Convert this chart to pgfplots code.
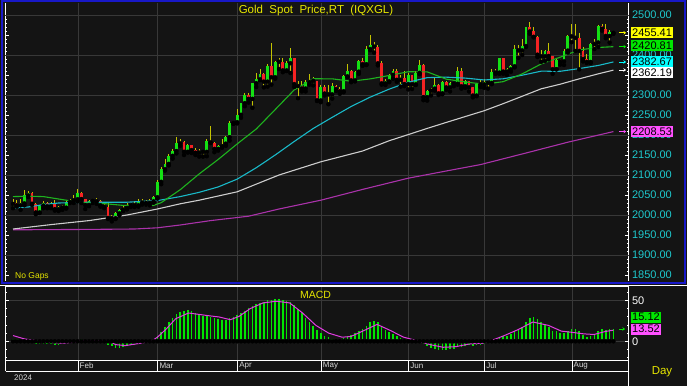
\documentclass[border=0pt]{standalone}
\usepackage{pgfplots}
\pgfplotsset{compat=1.18}
\usepackage{pgfplotstable}
\usepackage{fontspec}
\setmainfont{Liberation Sans}
\usetikzlibrary{arrows.meta}
\pgfkeys{/pgf/number format/assume math mode=true}

\definecolor{bg}{RGB}{20,20,20}
\definecolor{gridc}{RGB}{56,56,56}
\definecolor{frameblue}{RGB}{24,24,200}
\definecolor{ttlyellow}{RGB}{230,230,0}
\definecolor{tickcyan}{RGB}{30,200,205}
\definecolor{wick}{RGB}{195,195,0}
\definecolor{upg}{RGB}{20,225,20}
\definecolor{dnr}{RGB}{245,35,35}
\definecolor{magreen}{RGB}{30,180,30}
\definecolor{macyan}{RGB}{25,185,200}
\definecolor{mawhite}{RGB}{205,205,205}
\definecolor{mamag}{RGB}{170,50,170}
\definecolor{boxyellow}{RGB}{255,255,0}
\definecolor{boxgreen}{RGB}{0,230,0}
\definecolor{boxcyan}{RGB}{0,255,255}
\definecolor{boxmag}{RGB}{255,80,255}
\definecolor{macdg}{RGB}{0,230,0}
\definecolor{macdm}{RGB}{225,60,225}
\definecolor{monthc}{RGB}{215,215,215}

\pgfplotstableread{
k o h l c
0 2027.7 2041 2017 2030.2
2 2024.4 2040 2013 2028.9
3 2028.9 2062 2024 2049.0
4 2049.0 2060 2045 2055.3
7 2006.4 2026 2005 2023.4
8 2023.4 2036 2017 2029.2
10 2021.8 2032 2017 2029.3
12 2014.5 2023 2010 2020.9
14 2018.3 2035 2016 2032.6
15 2032.6 2040 2030 2036.7
16 2036.7 2051 2030 2039.3
17 2039.3 2065 2034 2054.8
20 2025.0 2038 2022 2035.3
27 1992.1 2008 1990 2004.1
28 2004.1 2016 1999 2013.4
29 2013.4 2023 2010 2017.6
30 2017.6 2031 2014 2024.6
31 2024.6 2031 2020 2025.9
33 2024.2 2041 2021 2035.8
36 2030.2 2039 2024 2034.0
37 2034.0 2048 2031 2044.4
38 2044.4 2088 2041 2082.9
39 2082.9 2119 2077 2114.6
40 2114.6 2141 2111 2127.9
41 2127.9 2152 2124 2148.0
42 2148.0 2165 2141 2159.8
43 2159.8 2195 2154 2179.0
44 2179.0 2189 2173 2182.4
46 2158.1 2178 2156 2174.9
49 2155.8 2164 2146 2160.5
51 2157.9 2189 2147 2186.1
54 2165.2 2175 2161 2171.9
55 2171.9 2189 2168 2178.4
56 2178.4 2197 2173 2194.4
57 2194.4 2236 2186 2229.9
58 2229.9 2236 2228 2232.0
59 2232.0 2266 2229 2250.6
60 2250.6 2281 2243 2279.5
61 2279.5 2305 2272 2300.2
63 2290.4 2331 2268 2329.5
64 2329.5 2354 2320 2339.1
65 2339.1 2365 2337 2352.6
67 2333.4 2378 2321 2372.7
69 2344.3 2385 2341 2383.3
72 2361.4 2385 2360 2379.4
73 2379.4 2417 2355 2391.9
77 2316.2 2338 2309 2332.2
78 2332.2 2353 2326 2337.5
81 2286.4 2326 2282 2320.3
84 2301.5 2331 2291 2323.2
87 2309.3 2351 2307 2346.5
88 2346.5 2378 2345 2360.3
90 2336.5 2361 2334 2358.4
91 2358.4 2388 2353 2385.5
93 2376.9 2422 2375 2414.9
94 2414.9 2450 2412 2425.3
98 2329.1 2340 2325 2334.1
99 2334.1 2353 2332 2350.4
100 2350.4 2364 2341 2360.5
102 2338.0 2351 2321 2343.1
104 2327.3 2354 2314 2350.4
106 2326.6 2359 2325 2355.4
107 2355.4 2388 2352 2375.5
109 2294.6 2313 2286 2310.7
110 2310.7 2318 2299 2316.0
111 2316.0 2342 2311 2325.3
113 2304.1 2334 2302 2333.1
115 2318.9 2332 2309 2329.4
117 2328.0 2369 2326 2360.3
119 2321.8 2337 2318 2334.4
122 2298.6 2330 2297 2327.0
124 2326.6 2339 2318 2332.6
126 2330.1 2365 2327 2356.3
128 2356.0 2393 2353 2392.1
130 2358.6 2367 2350 2364.0
131 2364.0 2376 2358 2371.7
132 2371.7 2424 2369 2414.9
134 2411.5 2440 2400 2422.4
135 2422.4 2470 2420 2469.6
140 2396.6 2412 2385 2409.6
143 2364.4 2390 2364 2387.1
145 2384.0 2414 2375 2411.0
146 2411.0 2451 2406 2447.6
152 2382.6 2431 2380 2427.7
153 2427.7 2439 2415 2431.3
154 2431.3 2475 2420 2472.5
157 2447.6 2463 2431 2456.8
}\uptab

\pgfplotstableread{
k o h l c
1 2030.2 2037 2021 2024.4
5 2055.3 2057 2025 2028.2
6 2028.2 2031 2002 2006.4
9 2029.2 2033 2017 2021.8
11 2029.3 2037 2011 2014.5
13 2020.9 2025 2013 2018.3
18 2054.8 2058 2030 2039.8
19 2039.8 2041 2015 2025.0
21 2035.3 2039 2030 2035.1
22 2035.1 2042 2028 2034.0
23 2034.0 2037 2021 2024.3
24 2024.3 2031 2017 2020.5
25 2020.5 2031 1990 1992.5
26 1992.5 2000 1984 1992.1
32 2025.9 2035 2020 2024.2
34 2035.8 2039 2026 2031.0
35 2031.0 2038 2026 2030.2
45 2182.4 2185 2150 2158.1
47 2174.9 2175 2155 2162.2
48 2162.2 2167 2150 2155.8
50 2160.5 2163 2146 2157.9
52 2186.1 2223 2180 2181.2
53 2181.2 2183 2157 2165.2
62 2300.2 2304 2281 2290.4
66 2352.6 2354 2319 2333.4
68 2372.7 2431 2326 2344.3
70 2383.3 2392 2365 2383.1
71 2383.1 2393 2357 2361.4
74 2391.9 2393 2320 2327.3
75 2327.3 2336 2292 2322.3
76 2322.3 2334 2309 2316.2
79 2337.5 2346 2324 2335.5
80 2335.5 2336 2285 2286.4
82 2320.3 2326 2299 2303.6
83 2303.6 2326 2277 2301.5
85 2323.2 2326 2310 2314.4
86 2314.4 2320 2303 2309.3
89 2360.3 2362 2332 2336.5
92 2385.5 2392 2373 2376.9
95 2425.3 2432 2406 2421.0
96 2421.0 2426 2374 2379.2
97 2379.2 2384 2326 2329.1
101 2360.5 2364 2333 2338.0
103 2343.1 2360 2322 2327.3
105 2350.4 2351 2315 2326.6
108 2375.5 2378 2287 2294.6
112 2325.3 2328 2300 2304.1
114 2333.1 2334 2313 2318.9
116 2329.4 2333 2322 2328.0
118 2360.3 2368 2316 2321.8
120 2334.4 2335 2309 2319.3
121 2319.3 2320 2294 2298.6
123 2327.0 2339 2320 2326.6
125 2332.6 2336 2316 2330.1
127 2356.3 2364 2353 2356.0
129 2392.1 2393 2353 2358.6
133 2414.9 2424 2393 2411.5
136 2469.6 2483 2453 2458.9
137 2458.9 2470 2444 2445.5
138 2445.5 2447 2395 2400.8
139 2400.8 2412 2383 2396.6
141 2409.6 2431 2389 2397.6
142 2397.6 2398 2353 2364.4
144 2387.1 2390 2376 2384.0
147 2447.6 2477 2432 2446.6
148 2446.6 2477 2410 2442.9
149 2442.9 2455 2364 2410.1
150 2410.1 2420 2384 2390.1
151 2390.1 2403 2380 2382.6
155 2472.5 2477 2461 2465.5
156 2465.5 2478 2442 2447.6
158 2456.8 2461 2453 2455.41
}\dntab

\pgfplotstableread{
k m
0 3
1 2.5
2 2
3 1
4 0
5 -2
6 -3
7 -3.5
8 -3
9 -3
10 -3.5
11 -4
12 -4
13 -3.5
14 -2.5
15 -2
16 0.5
17 2
18 2.5
19 2
20 1.5
21 1.5
22 1
23 0.5
24 0
25 -4
26 -6
27 -8
28 -8
29 -7
30 -6
31 -5
32 -4
33 -3
34 -2
35 -1
36 0.5
37 2
38 6
39 11
40 17
41 23
42 28
43 33
44 36
45 37
46 38
47 37
48 35
49 33
50 31
51 31
52 30
53 28
54 27
55 26
56 26
57 28
58 30
59 32
60 35
61 37
62 40
63 43
64 45
65 47
66 48
67 50
68 50
69 51
70 51
71 50
72 49
73 48
74 44
75 39
76 34
77 29
78 24
79 19
80 14
81 10
82 7
83 5
84 3
85 2
86 2
87 4
88 7
89 8
90 10
91 13
92 15
93 19
94 23
95 25
96 23
97 18
98 14
99 11
100 9
101 6
102 4
103 2
104 1
105 0
106 0
107 1
108 -3
109 -6
110 -8
111 -9
112 -10
113 -10
114 -10
115 -9
116 -9
117 -6
118 -7
119 -6
120 -5
121 -6
122 -5
123 -4
124 -3
125 -2
126 0
127 2
128 5
129 6
130 7
131 9
132 13
133 15
134 18
135 24
136 29
137 30
138 27
139 24
140 20
141 18
142 13
143 12
144 10
145 10
146 13
147 15
148 15
149 12
150 8
151 5
152 7
153 9
154 13
155 15
156 14
157 15
158 15.12
}\macdtab

\begin{document}
\begin{tikzpicture}[x=1pt,y=1pt]
\useasboundingbox (0,0) rectangle (687,386);
\fill[bg] (0,0) rectangle (687,386);

% ---------------- price panel ----------------
\begin{axis}[
  at={(5.5pt,105pt)}, anchor=south west,
  scale only axis, width=623pt, height=278pt,
  xmin=-1.974, xmax=161.97, ymin=1835, ymax=2530,
  separate axis lines,
  x axis line style={draw=none},
  y axis line style={white, line width=0.8pt},
  xtick={17.1,38.1,59.1,81.1,104.1,124.1,147.1},
  xticklabels={},
  xmajorgrids,
  xtick style={draw=none},
  ytick={1850,1900,...,2500},
  yticklabels={1850.00,1900.00,1950.00,2000.00,2050.00,2100.00,2150.00,2200.00,2250.00,2300.00,,2400.00,,2500.00},
  minor y tick num=4,
  ytick pos=both, yticklabel pos=right,
  ytick style={white, line width=0.6pt},
  major tick length=4pt, minor tick length=2pt,
  yticklabel style={text=tickcyan, font=\fontsize{11}{12}\selectfont},
  extra y ticks={1900,2000,2100,2200,2300,2400,2500},
  extra y tick labels={},
  extra y tick style={grid=major, tick style={draw=none}},
  major grid style={gridc, line width=0.8pt},
]
% wicks
\addplot[only marks, mark=none, error bars/.cd, y dir=plus, y explicit, error mark=none,
  error bar style={wick, line width=0.9pt}]
  table[x=k, y=l, y error expr=\thisrow{h}-\thisrow{l}] {\uptab};
\addplot[only marks, mark=none, error bars/.cd, y dir=plus, y explicit, error mark=none,
  error bar style={wick, line width=0.9pt}]
  table[x=k, y=l, y error expr=\thisrow{h}-\thisrow{l}] {\dntab};
% bodies
\addplot[only marks, mark=none, error bars/.cd, y dir=plus, y explicit, error mark=none,
  error bar style={upg, line width=2.9pt}]
  table[x=k, y=o, y error expr={max(\thisrow{c}-\thisrow{o},2.5)}] {\uptab};
\addplot[only marks, mark=none, error bars/.cd, y dir=plus, y explicit, error mark=none,
  error bar style={dnr, line width=2.9pt}]
  table[x=k, y=c, y error expr={max(\thisrow{o}-\thisrow{c},2.5)}] {\dntab};

% moving averages
\addplot[mamag, line width=1.1pt, mark=none] coordinates {
(0,1963) (20,1964) (32,1965) (38,1968) (44,1975) (52,1986) (62,1997) (70,2015)
(81,2037) (92,2064) (104,2092) (114,2110) (123,2126) (135,2155) (146,2182) (158,2208.53)};
\addplot[mawhite, line width=1.1pt, mark=none] coordinates {
(0,1965) (10,1976) (20,1986) (25,1993) (30,2000) (38,2015) (44,2028) (49,2037) (59,2058)
(70,2100) (81,2133) (92,2160) (99,2185.7) (104,2201.0) (109,2216.5) (114,2231.4)
(119,2246.1) (124,2260.7) (129,2278.4) (134,2296.9) (139,2315.5) (144,2327.0)
(149,2340.4) (154,2352.9) (158,2362.19)};
\addplot[macyan, line width=1.1pt, mark=none] coordinates {
(0,2017) (4,2020) (8,2026) (12,2030) (20,2032) (30,2032) (38,2036) (44,2046)
(49,2056.7) (54,2070.2) (59,2089.7) (64,2118.1) (69,2150.0) (74,2183.8) (79,2216.3)
(84,2244.2) (89,2271.4) (94,2294.7) (99,2314.7) (104,2331.9) (109,2343.4) (114,2344.6)
(119,2342.3) (124,2337.6) (129,2340.5) (134,2349.5) (139,2359.6) (144,2359.3)
(149,2366.1) (154,2373.8) (158,2382.67)};
\addplot[magreen, line width=1.1pt, mark=none] coordinates {
(0,2046) (4,2047) (8,2046) (12,2040) (16,2034) (19,2030.4) (24,2028.5) (29,2024.0)
(34,2025.3) (37,2024.1) (39,2030.8) (44,2063.2) (49,2102.8) (54,2138.9) (59,2177.8)
(64,2214.9) (69,2263.6) (74,2312.7) (79,2340.6) (84,2340.4) (89,2334.4) (94,2340.3)
(99,2348.8) (104,2358.1) (109,2357.8) (114,2339.7) (119,2332.7) (124,2326.9)
(129,2333.4) (134,2352.8) (139,2377.7) (144,2394.6) (149,2412.8) (154,2418.8) (158,2420.81)};
\end{axis}

% ---------------- MACD panel ----------------
\begin{axis}[
  at={(5.5pt,26pt)}, anchor=south west,
  scale only axis, width=623pt, height=74pt,
  xmin=-1.974, xmax=161.97, ymin=-22.8, ymax=67.4,
  axis line style={white, line width=0.8pt},
  xtick={17.1,38.1,59.1,81.1,104.1,124.1,147.1},
  xticklabels={},
  xmajorgrids,
  xtick style={draw=none},
  ytick={0,50},
  minor ytick={-20,-10,10,20,30,40,60},
  ymajorgrids,
  ytick pos=both, yticklabel pos=right,
  ytick style={white, line width=0.6pt},
  major tick length=4pt, minor tick length=2pt,
  yticklabel style={text=white, font=\fontsize{11}{12}\selectfont},
  major grid style={gridc, line width=0.8pt},
]
\addplot[only marks, mark=none, error bars/.cd, y dir=plus, y explicit, error mark=none,
  error bar style={macdg, line width=1.5pt}]
  table[x=k, y expr=0, y error expr=\thisrow{m}] {\macdtab};
\addplot[macdm, line width=1pt, mark=none] coordinates {
(0,7) (3,2.9) (6,0.9) (9,-1.2) (13,-2.4) (16,-1.2) (18,0.9) (25,0.9) (27,-4.0)
(29.5,-5.3) (33.5,-2.4) (36.4,0.1) (38,5) (40.4,15.3) (42.8,27.5) (46.2,34.5)
(50.8,31.6) (54.3,29.6) (57.2,26.3) (59.5,30.4) (62.4,39.8) (65.8,46.8) (69.3,48.8)
(72.8,46.8) (76.2,34.5) (79.7,19.4) (83.1,9.9) (86.6,5.0) (88.9,5.8) (92.4,13.2)
(95.8,20.6) (99.3,13.2) (102.8,5.0) (106.2,0.9) (109.7,-4.0) (113.2,-7.3) (116.6,-6.5)
(120.1,-3.2) (123.5,-2.4) (125.9,0.9) (129.3,7.0) (132.8,14.0) (136.8,23.5) (140.9,19.4)
(144.3,12.4) (146.6,11.2) (150.1,9.1) (152.9,8.3) (155.9,12.0) (158,13.52)};
\end{axis}

% ---------------- frames ----------------
\draw[frameblue, line width=2pt] (2,103.5) rectangle (684.5,384.5);
\draw[white, line width=1pt] (0,101) -- (687,101);
\draw[white, line width=1pt] (628.5,0) -- (628.5,101);
\draw[white, line width=0.8pt] (5.5,15) -- (628.5,15);
\draw[white, line width=0.8pt] (5.5,15) -- (5.5,26);
\foreach \xx in {78.0,157.8,237.6,321.2,408.6,484.6,572.0}
  \draw[white, line width=0.8pt] (\xx,15) -- (\xx,26);

% month labels
\foreach \xx/\mm in {78.0/Feb,157.8/Mar,237.6/Apr,321.2/May,408.6/Jun,484.6/Jul,572.0/Aug}
  \node[anchor=west, inner sep=0pt, text=monthc, font=\fontsize{8}{9}\selectfont] at (\xx+1.5,20.5) {\mm};
\node[anchor=west, inner sep=0pt, text=monthc, font=\fontsize{8}{9}\selectfont] at (14,8) {2024};

% texts
\node[text=ttlyellow, font=\fontsize{11.5}{12}\selectfont, inner sep=0pt] at (316,375.5) {Gold\ \ Spot\ \ Price,RT\ \ (IQXGL)};
\node[anchor=west, text=ttlyellow, font=\fontsize{8.5}{9}\selectfont, inner sep=0pt] at (15,109.6) {No Gaps};
\node[text=ttlyellow, font=\fontsize{10.5}{11}\selectfont, inner sep=0pt] at (315.5,91) {MACD};
\node[text=ttlyellow, font=\fontsize{11.5}{12}\selectfont, inner sep=0pt] at (662,14) {Day};

% value arrows
\draw[-{Stealth[length=2.5pt,width=3.5pt]}, boxyellow, line width=0.8pt] (619,353.2) -- (626,353.2);
\draw[-{Stealth[length=2.5pt,width=3.5pt]}, boxgreen, line width=0.8pt] (619,339.3) -- (626,339.3);
\draw[-{Stealth[length=2.5pt,width=3.5pt]}, boxcyan, line width=0.8pt] (619,324) -- (626,324);
\draw[-{Stealth[length=2.5pt,width=3.5pt]}, white, line width=0.8pt] (619,316) -- (626,316);
\draw[-{Stealth[length=2.5pt,width=3.5pt]}, boxmag, line width=0.8pt] (619,254.4) -- (626,254.4);
\draw[-{Stealth[length=2.5pt,width=3.5pt]}, macdg, line width=0.8pt] (619,57) -- (625,57);

% value boxes
\tikzset{vbox/.style={anchor=west, text=black, inner xsep=1.5pt, inner ysep=0pt,
  minimum height=11pt, font=\fontsize{11}{11}\selectfont}}
\node[vbox, fill=boxyellow] at (630.5,353.5) {2455.41};
\node[vbox, fill=boxgreen] at (630.5,340.5) {2420.81};
\node[vbox, fill=boxcyan] at (630.5,324.5) {2382.67};
\node[vbox, fill=white] at (630.5,313) {2362.19};
\node[vbox, fill=boxmag] at (630.5,254.5) {2208.53};
\node[vbox, fill=boxgreen] at (630.5,69) {15.12};
\node[vbox, fill=boxmag] at (630.5,57) {13.52};
\end{tikzpicture}
\end{document}
